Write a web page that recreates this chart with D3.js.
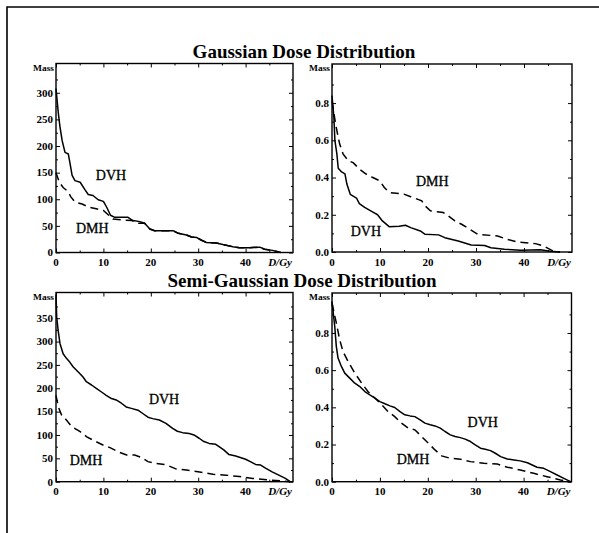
<!DOCTYPE html>
<html>
<head>
<meta charset="utf-8">
<script src="https://cdn.jsdelivr.net/npm/d3@7"></script>
<style>
  html, body { margin: 0; padding: 0; background: #fff; }
  svg { display: block; }
  text { font-family: "Liberation Serif", "Times New Roman", serif; fill: #000; }
</style>
</head>
<body>
<svg id="chart" width="599" height="533"></svg>
<script>
// ---- Gaussian dose distribution, absolute mass ----
const gaussAbsDvhDose = [0, 0.5, 0.84, 1.3, 1.9, 2.6, 2.9, 3.4, 4.0, 5.1, 6.1, 6.8, 7.8, 8.9, 10.0, 10.7, 11.5, 12.4, 13.4, 15.2, 16.2, 17.7, 18.7, 19.8, 20.8, 24.7, 25.8, 27.5, 28.6, 29.7, 30.7, 31.7, 33.8, 35.2, 37.3, 38.7, 40.8, 43.0, 44.0, 45.7, 47.4];
const gaussAbsDvhMass = [308, 261, 236, 210, 188, 185, 170, 145, 135, 132, 118, 109, 107, 99, 96, 85, 70, 66, 66, 66, 60, 58, 55, 44, 41, 41, 36, 33, 29, 28, 23, 19, 18, 15, 11, 9, 9, 10, 6, 4, 0];
const gaussAbsDmhDose = [0, 0.7, 1.5, 2.5, 3.1, 4.0, 5.5, 7.0, 8.5, 10.0, 11.0, 12.0, 14.0, 16.0, 17.5, 18.7, 19.8, 20.8, 24.7, 25.8, 27.5, 28.6, 29.7, 30.7, 31.7, 33.8, 35.2, 37.3, 38.7, 40.8, 43.0, 44.0, 45.7, 47.4];
const gaussAbsDmhMass = [150, 132, 122, 115, 105, 95, 91, 85, 82, 79, 71, 63, 61, 60, 55, 55, 44, 41, 41, 36, 33, 29, 28, 23, 19, 18, 15, 11, 9, 9, 10, 6, 4, 0];

// ---- Gaussian dose distribution, relative mass ----
const gaussRelDvhDose = [0, 0.4, 0.6, 1.0, 1.3, 2.0, 2.7, 3.1, 3.8, 5.1, 5.7, 6.8, 8.8, 9.5, 10.5, 11.9, 14.0, 15.3, 16.4, 18.4, 19.4, 22.2, 23.5, 26.3, 29.0, 31.8, 33.1, 35.9, 39.3, 43.4, 45.5, 47.5];
const gaussRelDvhMass = [0.84, 0.72, 0.60, 0.53, 0.45, 0.43, 0.42, 0.365, 0.31, 0.29, 0.26, 0.24, 0.21, 0.20, 0.167, 0.136, 0.138, 0.144, 0.131, 0.113, 0.095, 0.092, 0.077, 0.059, 0.038, 0.035, 0.023, 0.015, 0.010, 0.012, 0.004, 0];
const gaussRelDmhDose = [0, 0.8, 1.3, 1.6, 2.3, 3.4, 4.4, 5.7, 7.1, 8.5, 9.9, 10.9, 11.9, 15.0, 16.4, 18.7, 19.4, 20.5, 23.2, 24.2, 25.6, 27.0, 28.7, 30.4, 34.5, 36.5, 38.6, 42.4, 44.1, 46.1, 47.5];
const gaussRelDmhMass = [0.81, 0.68, 0.616, 0.58, 0.527, 0.49, 0.48, 0.446, 0.419, 0.40, 0.383, 0.347, 0.32, 0.311, 0.297, 0.275, 0.248, 0.221, 0.212, 0.194, 0.167, 0.149, 0.122, 0.095, 0.086, 0.068, 0.054, 0.045, 0.032, 0.005, 0];

// ---- Semi-Gaussian dose distribution, absolute mass ----
const semiAbsDvhDose = [0, 0.15, 0.5, 0.84, 1.5, 2.2, 2.9, 3.6, 4.7, 5.7, 6.4, 7.5, 8.5, 9.6, 10.6, 11.7, 12.7, 13.8, 14.8, 15.9, 17.3, 18.3, 19.4, 20.4, 21.8, 23.2, 24.6, 25.6, 26.7, 28.1, 29.1, 30.2, 31.2, 32.3, 33.7, 34.4, 35.4, 36.5, 37.9, 40.0, 41.0, 42.1, 43.1, 44.2, 45.6, 47.0, 48.4, 49.4];
const semiAbsDvhMass = [400, 352, 320, 296, 274, 264, 256, 246, 235, 224, 214, 207, 200, 192, 185, 178, 175, 168, 160, 157, 153, 146, 138, 135, 132, 125, 114, 108, 105, 103, 100, 93, 86, 82, 80, 75, 68, 58, 55, 48, 43, 37, 36, 29, 21, 14, 7, 0];
const semiAbsDmhDose = [0, 0.5, 1.2, 2.2, 3.3, 5.1, 6.5, 8.2, 10.0, 11.4, 13.1, 14.9, 16.6, 18.0, 19.4, 21.2, 23.3, 25.4, 27.5, 30.3, 33.1, 35.9, 38.7, 41.5, 44.4, 47.2, 49.4];
const semiAbsDmhMass = [185, 160, 142, 132, 118, 107, 96, 87, 78, 73, 64, 57, 57, 52, 43, 39, 36, 27, 25, 21, 16, 14, 11, 7, 4, 2, 0];

// ---- Semi-Gaussian dose distribution, relative mass ----
const semiRelDvhDose = [0, 0.57, 0.9, 1.26, 1.96, 2.66, 3.7, 4.76, 5.8, 6.86, 7.9, 8.95, 10.0, 11.05, 12.1, 13.1, 14.2, 15.2, 16.3, 17.3, 18.4, 19.4, 20.5, 21.5, 22.6, 23.6, 24.7, 25.7, 26.8, 27.8, 28.9, 29.9, 31.0, 32.0, 33.1, 34.1, 35.2, 36.6, 38.0, 39.3, 40.8, 41.8, 42.8, 44.2, 45.6, 47.0, 48.4, 49.8];
const semiRelDvhMass = [0.97, 0.836, 0.728, 0.665, 0.62, 0.584, 0.557, 0.53, 0.512, 0.485, 0.467, 0.45, 0.431, 0.419, 0.408, 0.399, 0.377, 0.36, 0.354, 0.35, 0.333, 0.315, 0.306, 0.30, 0.288, 0.27, 0.252, 0.243, 0.237, 0.229, 0.216, 0.198, 0.18, 0.175, 0.167, 0.153, 0.135, 0.122, 0.117, 0.112, 0.102, 0.09, 0.078, 0.072, 0.054, 0.036, 0.018, 0];
const semiRelDmhDose = [0, 0.9, 1.6, 2.3, 3.35, 4.76, 6.2, 7.5, 8.95, 10.4, 11.7, 13.1, 14.5, 15.9, 17.3, 18.7, 20.1, 21.5, 22.9, 24.7, 26.8, 28.9, 31.7, 34.5, 36.6, 39.3, 42.1, 44.9, 47.7, 49.8];
const semiRelDmhMass = [0.96, 0.854, 0.764, 0.70, 0.647, 0.584, 0.53, 0.485, 0.45, 0.413, 0.377, 0.35, 0.315, 0.288, 0.279, 0.243, 0.207, 0.171, 0.139, 0.126, 0.121, 0.108, 0.099, 0.095, 0.078, 0.063, 0.045, 0.027, 0.009, 0];

// ---- tick labels ----
const doseTicks = [0, 10, 20, 30, 40];
const absMassTicksGauss = [0, 50, 100, 150, 200, 250, 300];
const absMassTicksSemi = [0, 50, 100, 150, 200, 250, 300, 350];
const relMassTicks = [0, 0.2, 0.4, 0.6, 0.8];

const titles = ["Gaussian Dose Distribution", "Semi-Gaussian Dose Distribution"];
const curveNames = ["DVH", "DMH"];

const svg = d3.select("#chart");

// page border (top and left edges only)
svg.append("path")
  .attr("d", "M7,533 L7,7 L599,7")
  .attr("fill", "none").attr("stroke", "#000").attr("stroke-width", 1.6);

// section titles
svg.append("text").attr("x", 304).attr("y", 57.5)
  .attr("text-anchor", "middle").attr("font-weight", "bold").attr("font-size", 19)
  .text(titles[0]);
svg.append("text").attr("x", 302).attr("y", 287)
  .attr("text-anchor", "middle").attr("font-weight", "bold").attr("font-size", 19)
  .text(titles[1]);

const panels = [
  { box: [56, 293, 63.5, 252.5], yMax: 355, yTicks: absMassTicksGauss, fmt: d3.format("d"),
    dvh: [gaussAbsDvhDose, gaussAbsDvhMass], dmh: [gaussAbsDmhDose, gaussAbsDmhMass],
    dvhLabel: [8.4, 136], dmhLabel: [4.2, 37], minorY: 25 },
  { box: [332, 572, 64, 252], yMax: 1.01, yTicks: relMassTicks, fmt: d3.format(".1f"),
    dvh: [gaussRelDvhDose, gaussRelDvhMass], dmh: [gaussRelDmhDose, gaussRelDmhMass],
    dvhLabel: [3.9, 0.086], dmhLabel: [17.5, 0.355], minorY: 0.1 },
  { box: [56, 293, 292.5, 481.7], yMax: 405, yTicks: absMassTicksSemi, fmt: d3.format("d"),
    dvh: [semiAbsDvhDose, semiAbsDvhMass], dmh: [semiAbsDmhDose, semiAbsDmhMass],
    dvhLabel: [19.6, 166], dmhLabel: [2.9, 36], minorY: 25 },
  { box: [332, 571.5, 293, 481.7], yMax: 1.015, yTicks: relMassTicks, fmt: d3.format(".1f"),
    dvh: [semiRelDvhDose, semiRelDvhMass], dmh: [semiRelDmhDose, semiRelDmhMass],
    dvhLabel: [28.3, 0.295], dmhLabel: [13.5, 0.095], minorY: 0.1 }
];

panels.forEach(p => {
  const [x0, x1, y0, y1] = p.box;
  const x = d3.scaleLinear().domain([0, 50]).range([x0, x1]);
  const y = d3.scaleLinear().domain([0, p.yMax]).range([y1, y0]);
  const g = svg.append("g");

  // inward frame ticks: major at labelled values, minor halfway between
  const majorX = doseTicks;
  const minorX = d3.range(5, 50, 10);
  const minorY = d3.range(p.minorY, p.yMax, p.minorY * 2);

  const tickAxis = (axisFn, scale, vals, len, tx, ty) => {
    const a = g.append("g").attr("transform", `translate(${tx},${ty})`)
      .call(axisFn(scale).tickValues(vals).tickSize(len).tickFormat(""));
    a.select(".domain").remove();
    a.selectAll("line").attr("stroke", "#000").attr("stroke-width", 1);
  };
  tickAxis(d3.axisTop, x, majorX, 4, 0, y1);
  tickAxis(d3.axisTop, x, minorX, 2, 0, y1);
  tickAxis(d3.axisBottom, x, majorX, 4, 0, y0);
  tickAxis(d3.axisBottom, x, minorX, 2, 0, y0);
  tickAxis(d3.axisRight, y, p.yTicks, 4, x0, 0);
  tickAxis(d3.axisRight, y, minorY, 2, x0, 0);
  tickAxis(d3.axisLeft, y, p.yTicks, 4, x1, 0);
  tickAxis(d3.axisLeft, y, minorY, 2, x1, 0);

  // frame
  g.append("rect").attr("x", x0).attr("y", y0).attr("width", x1 - x0).attr("height", y1 - y0)
    .attr("fill", "none").attr("stroke", "#000").attr("stroke-width", 1.4);

  // y tick labels
  g.append("g").selectAll("text").data(p.yTicks).join("text")
    .attr("x", x0 - 3).attr("y", d => y(d) + 3.8)
    .attr("text-anchor", "end").attr("font-weight", "bold").attr("font-size", 11)
    .text(d => p.fmt(d));

  // x tick labels
  g.append("g").selectAll("text").data(doseTicks).join("text")
    .attr("x", d => x(d)).attr("y", y1 + 13.5)
    .attr("text-anchor", "middle").attr("font-weight", "bold").attr("font-size", 11)
    .text(d => d);

  // axis names
  g.append("text").attr("x", x0 - 2).attr("y", y0 + 7)
    .attr("text-anchor", "end").attr("font-weight", "bold").attr("font-size", 8)
    .attr("textLength", 21).attr("lengthAdjust", "spacingAndGlyphs")
    .text("Mass");
  g.append("text").attr("x", x1 - 1).attr("y", y1 + 13.5)
    .attr("text-anchor", "end").attr("font-weight", "bold").attr("font-style", "italic")
    .attr("font-size", 11).text("D/Gy");

  const line = d3.line().x(d => x(d[0])).y(d => y(d[1]));
  const pairs = ([ds, ms]) => ds.map((d, i) => [d, ms[i]]);

  g.append("path").datum(pairs(p.dvh)).attr("d", line)
    .attr("fill", "none").attr("stroke", "#000").attr("stroke-width", 1.5)
    .attr("stroke-linejoin", "round");
  g.append("path").datum(pairs(p.dmh)).attr("d", line)
    .attr("fill", "none").attr("stroke", "#000").attr("stroke-width", 1.5)
    .attr("stroke-dasharray", "8,5");

  g.append("text").attr("x", x(p.dvhLabel[0])).attr("y", y(p.dvhLabel[1]))
    .attr("font-size", 14).attr("stroke", "#000").attr("stroke-width", 0.3).text(curveNames[0]);
  g.append("text").attr("x", x(p.dmhLabel[0])).attr("y", y(p.dmhLabel[1]))
    .attr("font-size", 14).attr("stroke", "#000").attr("stroke-width", 0.3).text(curveNames[1]);
});
</script>
</body>
</html>
